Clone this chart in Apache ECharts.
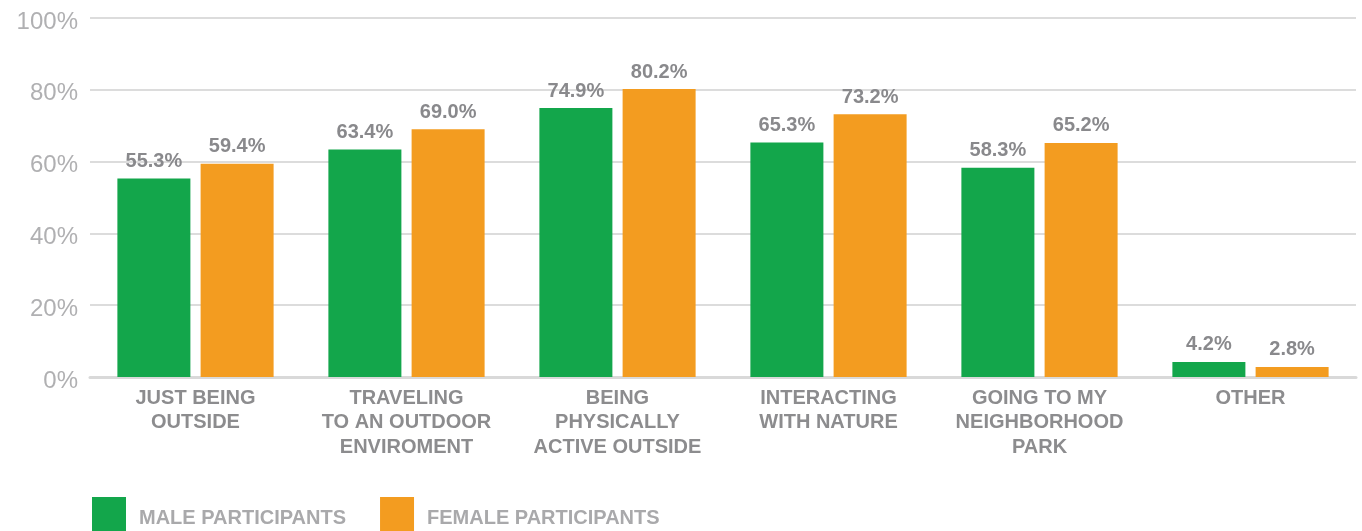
<!DOCTYPE html>
<html>
<head>
<meta charset="utf-8">
<script src="https://cdn.jsdelivr.net/npm/echarts@6/dist/echarts.min.js"></script>
<style>
  html, body { margin: 0; padding: 0; background: #ffffff; }
  #chart { width: 1362px; height: 531px; }
</style>
</head>
<body>
<div id="chart"></div>
<script>
// Reasons for going outdoors, by participant gender (share of respondents, %)
const categories = [
  'JUST BEING\nOUTSIDE',
  'TRAVELING\nTO AN OUTDOOR\nENVIROMENT',
  'BEING\nPHYSICALLY\nACTIVE OUTSIDE',
  'INTERACTING\nWITH NATURE',
  'GOING TO MY\nNEIGHBORHOOD\nPARK',
  'OTHER'
];
const maleValues = [55.3, 63.4, 74.9, 65.3, 58.3, 4.2];
const femaleValues = [59.4, 69.0, 80.2, 73.2, 65.2, 2.8];
const seriesNames = ['MALE PARTICIPANTS', 'FEMALE PARTICIPANTS'];
const yTicks = [0, 20, 40, 60, 80, 100];

const GREEN = '#13a64b';
const ORANGE = '#f39c20';
const FONT = '"Liberation Sans", Arial, Helvetica, sans-serif';

const chart = echarts.init(document.getElementById('chart'), null, { renderer: 'canvas' });

const valueLabel = {
  show: true,
  position: 'top',
  distance: 7,
  formatter: p => p.value.toFixed(1) + '%',
  fontFamily: FONT,
  fontWeight: 'bold',
  fontSize: 20,
  color: '#89898c'
};

chart.setOption({
  animation: false,
  backgroundColor: '#ffffff',
  grid: { left: 90, right: 6, top: 18, bottom: 154, containLabel: false },
  legend: {
    left: 87,
    top: 492,
    itemWidth: 34,
    itemHeight: 34,
    itemGap: 34,
    icon: 'rect',
    formatter: name => '{t|' + name + '}',
    textStyle: {
      fontFamily: FONT, fontWeight: 'bold', fontSize: 20, color: '#a9a9ab',
      rich: { t: { fontFamily: FONT, fontWeight: 'bold', fontSize: 20, color: '#a9a9ab', padding: [8, 0, 0, 8] } }
    },
    data: seriesNames
  },
  xAxis: {
    type: 'category',
    data: categories,
    axisLine: { show: true, lineStyle: { color: '#d9d9d9', width: 3 } },
    axisTick: { show: false },
    axisLabel: {
      interval: 0,
      margin: 9,
      fontFamily: FONT,
      fontWeight: 'bold',
      fontSize: 20,
      lineHeight: 24.5,
      color: '#8c8c8e'
    }
  },
  yAxis: {
    type: 'value',
    min: yTicks[0],
    max: yTicks[yTicks.length - 1],
    interval: 20,
    axisLine: { show: false },
    axisTick: { show: false },
    splitLine: { lineStyle: { color: '#dcdcdc', width: 2 } },
    axisLabel: {
      margin: 12,
      formatter: v => '{v|' + v + '%}',
      rich: { v: { fontFamily: FONT, fontSize: 24, color: '#b0b0b2', padding: [8, 0, 0, 0] } }
    }
  },
  series: [
    {
      name: seriesNames[0],
      type: 'bar',
      data: maleValues,
      barWidth: 73,
      barGap: '14%',
      itemStyle: { color: GREEN },
      label: valueLabel
    },
    {
      name: seriesNames[1],
      type: 'bar',
      data: femaleValues,
      barWidth: 73,
      barGap: '14%',
      itemStyle: { color: ORANGE },
      label: valueLabel
    }
  ]
});
</script>
</body>
</html>
